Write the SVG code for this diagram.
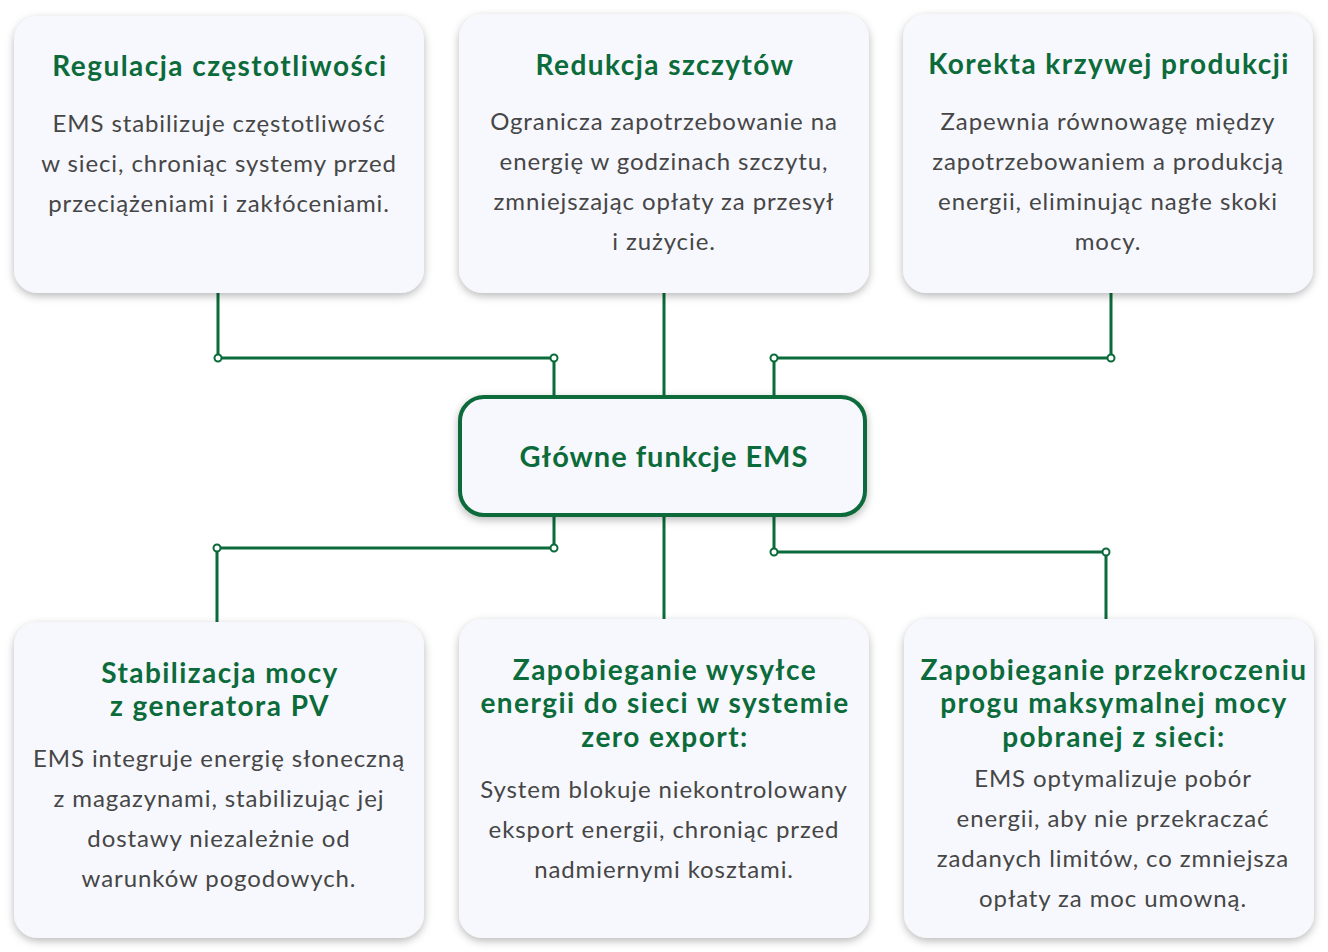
<svg xmlns="http://www.w3.org/2000/svg" width="1328" height="952" viewBox="0 0 1328 952">
<defs>
<filter id="sh" x="-10%" y="-10%" width="120%" height="125%">
<feDropShadow dx="0" dy="3" stdDeviation="4" flood-color="#000" flood-opacity="0.28"/>
</filter>
<style>
.card{fill:#f7f8fd;filter:url(#sh)}
.hub{fill:#f7f8fd;stroke:#0b6b3a;stroke-width:4;filter:url(#sh)}
.t{font-family:Lato,"Liberation Sans",sans-serif;font-weight:700;font-size:28px;letter-spacing:1.45px;fill:#0b6b3a;text-anchor:middle}
.h{font-family:Lato,"Liberation Sans",sans-serif;font-weight:700;font-size:29px;letter-spacing:1px;fill:#0b6b3a;text-anchor:middle}
.b{font-family:Lato,"Liberation Sans",sans-serif;font-size:24px;letter-spacing:0.9px;fill:#464646;text-anchor:middle}
.ln{fill:none;stroke:#0b6b3a;stroke-width:3}
.dot{fill:#fff;stroke:#0b6b3a;stroke-width:2}
</style>
</defs>
<rect width="1328" height="952" fill="#fff"/>
<g id="connectors">
<polyline class="ln" points="218,293 218,358 554,358 554,397"/>
<line class="ln" x1="664" y1="293" x2="664" y2="397"/>
<polyline class="ln" points="1111,293 1111,358 774,358 774,397"/>
<polyline class="ln" points="554,515 554,548 217,548 217,622"/>
<line class="ln" x1="664" y1="515" x2="664" y2="619"/>
<polyline class="ln" points="774,515 774,552 1106,552 1106,619"/>
<circle class="dot" cx="218" cy="358" r="3.5"/>
<circle class="dot" cx="554" cy="358" r="3.5"/>
<circle class="dot" cx="1111" cy="358" r="3.5"/>
<circle class="dot" cx="774" cy="358" r="3.5"/>
<circle class="dot" cx="554" cy="548" r="3.5"/>
<circle class="dot" cx="217" cy="548" r="3.5"/>
<circle class="dot" cx="774" cy="552" r="3.5"/>
<circle class="dot" cx="1106" cy="552" r="3.5"/>
</g>
<g id="n1">
<rect class="card" x="14" y="16" width="410" height="277" rx="24"/>
<text class="t" x="220" y="76">Regulacja częstotliwości</text>
<text class="b" x="219" y="132">EMS stabilizuje częstotliwość</text>
<text class="b" x="219" y="172">w sieci, chroniąc systemy przed</text>
<text class="b" x="219" y="212">przeciążeniami i zakłóceniami.</text>
</g>
<g id="n2">
<rect class="card" x="459" y="14" width="410" height="279" rx="24"/>
<text class="t" x="665" y="75">Redukcja szczytów</text>
<text class="b" x="664" y="130">Ogranicza zapotrzebowanie na</text>
<text class="b" x="664" y="170">energię w godzinach szczytu,</text>
<text class="b" x="664" y="210">zmniejszając opłaty za przesył</text>
<text class="b" x="664" y="250">i zużycie.</text>
</g>
<g id="n3">
<rect class="card" x="903" y="14" width="410" height="279" rx="24"/>
<text class="t" x="1109" y="74">Korekta krzywej produkcji</text>
<text class="b" x="1108" y="130">Zapewnia równowagę między</text>
<text class="b" x="1108" y="170">zapotrzebowaniem a produkcją</text>
<text class="b" x="1108" y="210">energii, eliminując nagłe skoki</text>
<text class="b" x="1108" y="250">mocy.</text>
</g>
<g id="hub">
<rect class="hub" x="460" y="397" width="405" height="118" rx="24"/>
<text class="h" x="664" y="467">Główne funkcje EMS</text>
</g>
<g id="n4">
<rect class="card" x="14" y="622" width="410" height="316" rx="24"/>
<text class="t" x="220" y="683">Stabilizacja mocy</text>
<text class="t" x="220" y="716">z generatora PV</text>
<text class="b" x="219" y="767">EMS integruje energię słoneczną</text>
<text class="b" x="219" y="807">z magazynami, stabilizując jej</text>
<text class="b" x="219" y="847">dostawy niezależnie od</text>
<text class="b" x="219" y="887">warunków pogodowych.</text>
</g>
<g id="n5">
<rect class="card" x="459" y="619" width="410" height="319" rx="24"/>
<text class="t" x="665" y="680">Zapobieganie wysyłce</text>
<text class="t" x="665" y="713">energii do sieci w systemie</text>
<text class="t" x="665" y="747">zero export:</text>
<text class="b" x="664" y="798">System blokuje niekontrolowany</text>
<text class="b" x="664" y="838">eksport energii, chroniąc przed</text>
<text class="b" x="664" y="878">nadmiernymi kosztami.</text>
</g>
<g id="n6">
<rect class="card" x="904" y="619" width="410" height="319" rx="24"/>
<text class="t" x="1114" y="680">Zapobieganie przekroczeniu</text>
<text class="t" x="1114" y="713">progu maksymalnej mocy</text>
<text class="t" x="1114" y="747">pobranej z sieci:</text>
<text class="b" x="1113" y="787">EMS optymalizuje pobór</text>
<text class="b" x="1113" y="827">energii, aby nie przekraczać</text>
<text class="b" x="1113" y="867">zadanych limitów, co zmniejsza</text>
<text class="b" x="1113" y="907">opłaty za moc umowną.</text>
</g>
</svg>
